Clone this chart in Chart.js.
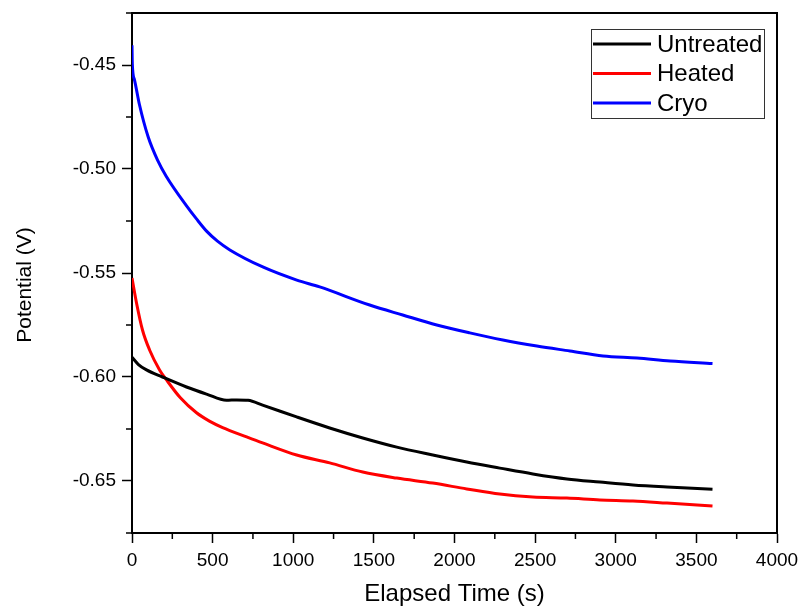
<!DOCTYPE html>
<html>
<head>
<meta charset="utf-8">
<script src="https://cdn.jsdelivr.net/npm/chart.js@4/dist/chart.umd.min.js"></script>
<style>
  html, body { margin: 0; padding: 0; background: #fff; }
  #wrap { width: 798px; height: 607px; }
</style>
</head>
<body>
<div id="wrap"><canvas id="potentialChart"></canvas></div>
<script>
// Values (time in s, potential in V)
const untreatedTime = [0, 40, 90, 189, 338, 462, 586, 650, 720, 810, 1021, 1226, 1431, 1642, 1865, 2076, 2281, 2486, 2697, 2902, 3107, 3318, 3600];
const untreatedPotential = [-0.5905, -0.5940, -0.5966, -0.6000, -0.6048, -0.6082, -0.6112, -0.6110, -0.6112, -0.6135, -0.6192, -0.6245, -0.6293, -0.6337, -0.6375, -0.6409, -0.6438, -0.6466, -0.6490, -0.6505, -0.6519, -0.6529, -0.6540];

const heatedTime = [0, 28, 65, 109, 171, 214, 300, 400, 480, 562, 711, 810, 1021, 1226, 1431, 1642, 1865, 2076, 2281, 2486, 2697, 2902, 3107, 3318, 3600];
const heatedPotential = [-0.5524, -0.5644, -0.5774, -0.5870, -0.5966, -0.6014, -0.6100, -0.6172, -0.6212, -0.6243, -0.6288, -0.6317, -0.6375, -0.6413, -0.6457, -0.6486, -0.6510, -0.6538, -0.6563, -0.6577, -0.6582, -0.6591, -0.6596, -0.6606, -0.6620];

const cryoTime = [0, 2, 15, 46, 100, 160, 212, 336, 400, 464, 530, 607, 811, 1022, 1164, 1474, 1679, 1890, 2095, 2300, 2511, 2716, 2921, 3132, 3337, 3600];
const cryoPotential = [-0.4405, -0.4495, -0.4570, -0.4690, -0.4845, -0.4960, -0.5035, -0.5175, -0.5240, -0.5300, -0.5347, -0.5389, -0.5471, -0.5534, -0.5567, -0.5654, -0.5702, -0.5750, -0.5788, -0.5822, -0.5851, -0.5875, -0.5899, -0.5909, -0.5923, -0.5935];

const seriesNames = ['Untreated', 'Heated', 'Cryo'];
const seriesColors = ['#000000', '#ff0000', '#0000ff'];

const xMajorTicks = [0, 500, 1000, 1500, 2000, 2500, 3000, 3500, 4000];
const xMinorTicks = [250, 750, 1250, 1750, 2250, 2750, 3250, 3750];
const yMajorTicks = [-0.65, -0.60, -0.55, -0.50, -0.45];
const yMinorTicks = [-0.675, -0.625, -0.575, -0.525, -0.475, -0.425];
const yTitle = 'Potential (V)';

const FONT = "'Liberation Sans', Arial, sans-serif";

function toPoints(xs, ys) {
    return xs.map((x, i) => ({ x: x, y: ys[i] }));
}

// frame on top/right, minor ticks, y title and the boxed legend
const framePlugin = {
    id: 'frameAndLegend',
    afterDraw(chart) {
        const { ctx, chartArea: a, scales } = chart;
        ctx.save();
        ctx.strokeStyle = '#000';
        ctx.lineWidth = 2;
        ctx.beginPath();
        ctx.moveTo(a.left, a.top);
        ctx.lineTo(a.right, a.top);
        ctx.lineTo(a.right, a.bottom);
        ctx.stroke();

        // minor ticks (outside)
        ctx.lineWidth = 1.5;
        ctx.beginPath();
        xMinorTicks.forEach(v => {
            const px = scales.x.getPixelForValue(v);
            ctx.moveTo(px, a.bottom);
            ctx.lineTo(px, a.bottom + 6);
        });
        yMinorTicks.forEach(v => {
            const py = scales.y.getPixelForValue(v);
            ctx.moveTo(a.left, py);
            ctx.lineTo(a.left - 6, py);
        });
        ctx.stroke();

        // y axis title, sits a little below the middle of the plot
        ctx.save();
        ctx.translate(25, (a.top + a.bottom) / 2 + 12);
        ctx.rotate(-Math.PI / 2);
        ctx.font = '21px ' + FONT;
        ctx.fillStyle = '#000';
        ctx.textAlign = 'center';
        ctx.textBaseline = 'middle';
        ctx.fillText(yTitle, 0, 0);
        ctx.restore();

        // legend box
        const boxRight = a.right - 13;
        const boxLeft = boxRight - 173;
        const boxTop = a.top + 16;
        const boxH = 89;
        ctx.lineWidth = 1;
        ctx.strokeStyle = '#333';
        ctx.strokeRect(boxLeft + 0.5, boxTop + 0.5, boxRight - boxLeft, boxH);
        ctx.font = '24px ' + FONT;
        ctx.textBaseline = 'middle';
        ctx.textAlign = 'left';
        ctx.fillStyle = '#000';
        chart.data.datasets.forEach((ds, i) => {
            const y = boxTop + 15 + i * 29.5;
            ctx.strokeStyle = ds.borderColor;
            ctx.lineWidth = 3;
            ctx.beginPath();
            ctx.moveTo(boxLeft + 2, y);
            ctx.lineTo(boxLeft + 60, y);
            ctx.stroke();
            ctx.fillText(ds.label, boxLeft + 66, y + 1);
        });
        ctx.restore();
    }
};

const ctx = document.getElementById('potentialChart').getContext('2d');
new Chart(ctx, {
    type: 'line',
    data: {
        datasets: [
            { label: seriesNames[0], data: toPoints(untreatedTime, untreatedPotential), borderColor: seriesColors[0] },
            { label: seriesNames[1], data: toPoints(heatedTime, heatedPotential), borderColor: seriesColors[1] },
            { label: seriesNames[2], data: toPoints(cryoTime, cryoPotential), borderColor: seriesColors[2] }
        ]
    },
    options: {
        responsive: true,
        maintainAspectRatio: false,
        animation: false,
        devicePixelRatio: 1,
        layout: { padding: { top: 13, right: 21, left: 0, bottom: 0 } },
        elements: {
            point: { radius: 0 },
            line: { borderWidth: 3, cubicInterpolationMode: 'monotone', fill: false }
        },
        plugins: {
            legend: { display: false },
            tooltip: { enabled: false }
        },
        scales: {
            x: {
                type: 'linear',
                min: 0,
                max: 4000,
                afterBuildTicks: (scale) => { scale.ticks = xMajorTicks.map(v => ({ value: v })); },
                afterFit: (scale) => {
                    scale.height = 74;
                    scale.paddingLeft = 0;
                    scale.paddingRight = 0;
                },
                grid: { drawOnChartArea: false, drawTicks: true, tickLength: 10, tickColor: '#000', tickWidth: 1.5 },
                border: { display: true, color: '#000', width: 2 },
                ticks: {
                    color: '#000',
                    font: { family: FONT, size: 19 },
                    padding: 6,
                    maxRotation: 0,
                    autoSkip: false,
                    callback: (v) => String(v)
                },
                title: {
                    display: true,
                    text: 'Elapsed Time (s)',
                    color: '#000',
                    font: { family: FONT, size: 24 },
                    padding: { top: 0, bottom: -2 }
                }
            },
            y: {
                type: 'linear',
                min: -0.675,
                max: -0.425,
                afterBuildTicks: (scale) => { scale.ticks = yMajorTicks.map(v => ({ value: v })); },
                afterFit: (scale) => {
                    scale.width = 132;
                    scale.paddingTop = 0;
                    scale.paddingBottom = 0;
                },
                grid: { drawOnChartArea: false, drawTicks: true, tickLength: 10, tickColor: '#000', tickWidth: 1.5 },
                border: { display: true, color: '#000', width: 2 },
                ticks: {
                    color: '#000',
                    font: { family: FONT, size: 19 },
                    padding: 6,
                    autoSkip: false,
                    callback: (v) => v.toFixed(2)
                }
            }
        }
    },
    plugins: [framePlugin]
});
</script>
</body>
</html>
